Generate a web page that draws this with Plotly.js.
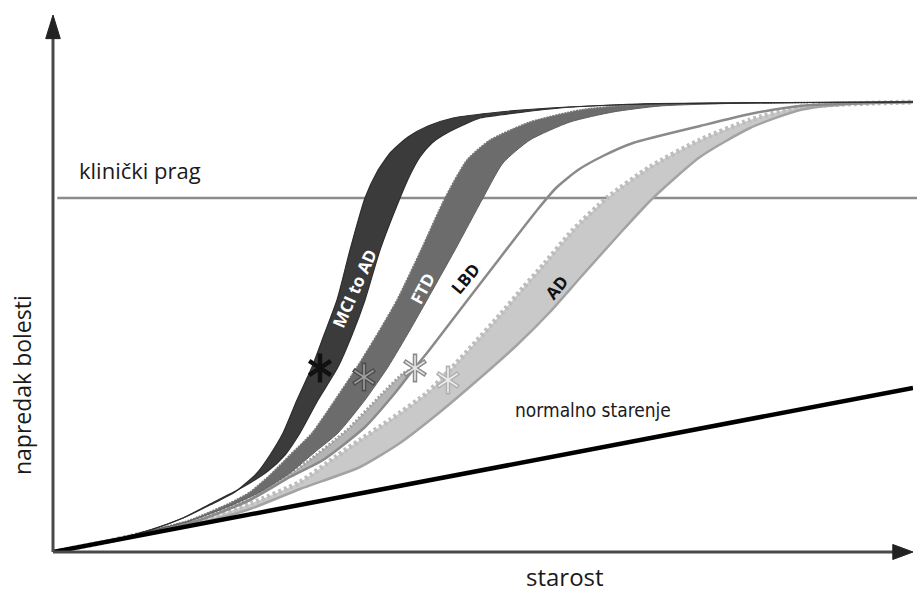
<!DOCTYPE html>
<html>
<head>
<meta charset="utf-8">
<script src="https://cdn.plot.ly/plotly-3.0.1.min.js"></script>
<style>html,body{margin:0;padding:0;background:#fff;}#chart{width:917px;height:595px;}</style>
</head>
<body>
<div id="chart"></div>
<script>
// ---- data (arbitrary units: starost on x, napredak bolesti on y) ----
const normalX = [0, 86];
const normalY = [0, 16.4];
const thresholdY = 35.4;

const mciLeftX = [0,4.7,9.7,13.0,15.7,18.2,20.4,21.7,23.0,24.4,25.9,27.1,28.4,29.7,31.2,32.4,33.8,35.5,37.5,40.0,44.7,49.7,59.7,74.7,86];
const mciLeftY = [0,0.9,2.2,3.4,4.7,6.0,7.9,9.7,11.9,15.2,18.5,21.7,25.2,30.2,35.4,38.0,40.0,41.5,42.6,43.4,44.0,44.4,44.8,44.95,45.0];
const mciRightX = [0,4.7,9.7,13.0,15.7,19.0,21.5,23.2,24.7,26.5,28.5,29.9,31.2,32.7,34.7,35.7,36.7,37.9,39.4,42.7,44.7,50.7,58.7,86];
const mciRightY = [0,0.9,2.2,3.4,4.8,6.5,8.1,9.7,11.9,15.2,18.5,21.7,25.2,30.2,35.4,37.7,39.5,40.9,41.9,43.4,43.7,44.4,44.8,45.0];

const ftdLeftX = [0,4.7,9.7,13.7,17.7,19.7,21.7,23.7,25.9,28.2,30.4,32.5,34.4,36.8,39.2,41.4,43.7,47.7,52.7,57.7,86];
const ftdLeftY = [0,0.9,2.1,3.2,4.9,6.0,7.7,9.7,11.9,15.2,18.5,21.9,25.2,30.2,35.4,39.2,41.2,43.0,44.2,44.7,45.0];
const ftdRightX = [0,4.7,9.7,13.7,17.7,20.7,23.7,26.2,28.5,31.2,33.5,35.7,37.4,40.2,43.0,45.0,47.7,51.7,56.0,60.7,69.7,86];
const ftdRightY = [0,0.9,2.1,3.1,4.6,6.0,7.9,10.0,11.9,15.2,18.5,22.2,25.2,30.2,35.4,38.9,41.2,43.0,44.0,44.6,44.9,45.0];

const lbdX = [0,4.7,9.7,14.7,19.7,23.7,27.0,31.2,34.2,36.0,37.4,39.7,43.0,46.0,48.5,50.3,52.5,55.0,58.0,64.7,69.7,74.7,86];
const lbdY = [0,0.9,2.05,3.2,5.2,7.5,9.2,12.5,15.9,18.2,19.9,22.9,27.2,31.1,34.3,36.4,38.2,39.6,40.9,42.6,43.8,44.6,45.0];
const lbdBandX = [0,4.7,9.7,14.7,19.7,23.7,25.4,29.4,32.7,35.2,36.0];
const lbdBandY = [0,0.9,2.1,3.3,5.4,7.8,9.0,12.2,15.6,18.0,18.2];

const adLeftX = [0,4.7,9.7,14.7,19.7,24.7,28.4,30.7,33.7,37.4,39.7,42.0,44.7,47.0,49.2,52.0,55.4,59.7,64.7,69.7,74.7,86];
const adLeftY = [0,0.9,2.0,3.05,4.8,7.0,9.6,11.2,13.2,15.9,18.2,20.7,23.7,26.4,28.9,32.2,35.4,38.5,41.2,43.2,44.5,45.0];
const adRightX = [0,4.7,9.7,14.7,19.7,24.7,30.7,34.7,38.7,42.7,46.4,49.7,52.7,57.0,60.0,64.7,69.7,74.7,79.7,86];
const adRightY = [0,0.9,1.9,2.9,4.3,6.3,8.5,10.9,14.0,17.4,20.7,24.0,27.4,32.2,35.4,39.5,42.4,44.2,44.8,45.0];

const starX = [26.7, 31.1, 36.2, 39.5];
const starY = [18.4, 17.5, 18.4, 17.2];
const bandNames = ['MCI to AD', 'FTD', 'LBD', 'AD'];

// ---- helpers ----
const SM = 0.6;
function band(xl, yl, xr, yr, fill) {
  return {x: xl.concat(xr.slice().reverse()), y: yl.concat(yr.slice().reverse()),
    mode: 'lines', fill: 'toself', fillcolor: fill,
    line: {width: 0, shape: 'spline', smoothing: SM}, hoverinfo: 'skip'};
}
function edge(x, y, color, width, dash) {
  return {x: x, y: y, mode: 'lines', hoverinfo: 'skip',
    line: {color: color, width: width, dash: dash || 'solid', shape: 'spline', smoothing: SM}};
}
const lbdLowN = lbdX.indexOf(36.0) + 1;

const traces = [
  band(adLeftX, adLeftY, adRightX, adRightY, '#c9c9c9'),
  edge(adLeftX, adLeftY, '#bdbdbd', 5, '3px,3px'),
  edge(adRightX, adRightY, '#a3a3a3', 2.5),
  band(lbdBandX, lbdBandY, lbdX.slice(0, lbdLowN), lbdY.slice(0, lbdLowN), '#b3b3b3'),
  edge(lbdBandX, lbdBandY, '#a0a0a0', 3, '2px,2px'),
  edge(lbdX, lbdY, '#8a8a8a', 2.5),
  band(ftdLeftX, ftdLeftY, ftdRightX, ftdRightY, '#6c6c6c'),
  edge(ftdLeftX, ftdLeftY, '#777777', 1.6, '2px,1px'),
  edge(ftdRightX, ftdRightY, '#5e5e5e', 1),
  band(mciLeftX, mciLeftY, mciRightX, mciRightY, '#3b3b3b'),
  edge(mciLeftX, mciLeftY, '#2e2e2e', 1.2),
  edge(mciRightX, mciRightY, '#2e2e2e', 1.2),
  {x: normalX, y: normalY, mode: 'lines', hoverinfo: 'skip', line: {color: '#000', width: 4.5}}
];

// asterisks: outer + inner strokes, 6 arms from two "y" symbols
const outerCol = ['#111111', '#4d4d4d', '#8a8a8a', '#b0b0b0'];
const innerCol = ['#111111', '#a0a0a0', '#e6e6e6', '#eeeeee'];
['y-up-open', 'y-down-open'].forEach(function (sym) {
  traces.push({x: starX, y: starY, mode: 'markers', hoverinfo: 'skip',
    marker: {symbol: sym, size: 18, color: outerCol, line: {color: outerCol, width: 4.5}}});
});
['y-up-open', 'y-down-open'].forEach(function (sym) {
  traces.push({x: starX, y: starY, mode: 'markers', hoverinfo: 'skip',
    marker: {symbol: sym, size: 16, color: innerCol, line: {color: innerCol, width: 1.6}}});
});

const labelFont = {family: 'Open Sans, sans-serif', size: 17, weight: 700};
const annotations = [
  {x: 30.1, y: 26.4, text: bandNames[0], textangle: -66, showarrow: false, font: Object.assign({}, labelFont, {color: '#ffffff'})},
  {x: 36.9, y: 26.4, text: bandNames[1], textangle: -62, showarrow: false, font: Object.assign({}, labelFont, {color: '#ffffff'})},
  {x: 41.2, y: 27.4, text: bandNames[2], textangle: -50, showarrow: false, font: Object.assign({}, labelFont, {color: '#111111'})},
  {x: 50.3, y: 26.5, text: bandNames[3], textangle: -50, showarrow: false, font: Object.assign({}, labelFont, {color: '#111111'})},
  {x: 2.4, y: 38.2, xanchor: 'left', yanchor: 'middle', text: 'klinički prag', showarrow: false,
   font: {family: 'Open Sans, sans-serif', size: 22, color: '#1a1a1a'}},
  {x: 54.0, y: 14.2, xanchor: 'center', yanchor: 'middle', text: 'normalno starenje', showarrow: false,
   font: {family: 'DejaVu Sans Condensed, Open Sans, sans-serif', size: 19, color: '#1a1a1a'}},
  {xref: 'paper', yref: 'paper', x: 0.595, y: -0.045, xanchor: 'center', yanchor: 'middle', text: 'starost', showarrow: false,
   font: {family: 'Open Sans, sans-serif', size: 24, color: '#1a1a1a'}},
  {xref: 'paper', yref: 'paper', x: -0.036, y: 0.311, xanchor: 'center', yanchor: 'middle', text: 'napredak bolesti', textangle: -90, showarrow: false,
   font: {family: 'Open Sans, sans-serif', size: 23, color: '#1a1a1a'}}
];

const axisCol = '#4a4a4a';
const shapes = [
  {type: 'line', layer: 'below', xref: 'paper', yref: 'y', x0: 0.005, x1: 1.005, y0: thresholdY, y1: thresholdY,
   line: {color: '#8c8c8c', width: 2.5}},
  {type: 'line', xref: 'paper', yref: 'paper', x0: 0, x1: 0, y0: 0, y1: 0.96, line: {color: axisCol, width: 3}},
  {type: 'path', xref: 'paper', yref: 'paper', path: 'M 0,1 L -0.0085,0.956 L 0.0085,0.956 Z',
   fillcolor: '#222', line: {color: '#222', width: 1}},
  {type: 'line', xref: 'paper', yref: 'paper', x0: 0, x1: 0.98, y0: 0, y1: 0, line: {color: axisCol, width: 3}},
  {type: 'path', xref: 'paper', yref: 'paper', path: 'M 1,0 L 0.9765,0.014 L 0.9765,-0.014 Z',
   fillcolor: '#222', line: {color: '#222', width: 1}}
];

const layout = {
  width: 917, height: 595,
  margin: {l: 53, r: 4, t: 15, b: 43},
  paper_bgcolor: '#ffffff', plot_bgcolor: '#ffffff',
  showlegend: false,
  xaxis: {range: [0, 86], visible: false, fixedrange: true},
  yaxis: {range: [0, 53.7], visible: false, fixedrange: true},
  annotations: annotations,
  shapes: shapes
};

Plotly.newPlot('chart', traces, layout, {displayModeBar: false, staticPlot: true});
</script>
</body>
</html>
